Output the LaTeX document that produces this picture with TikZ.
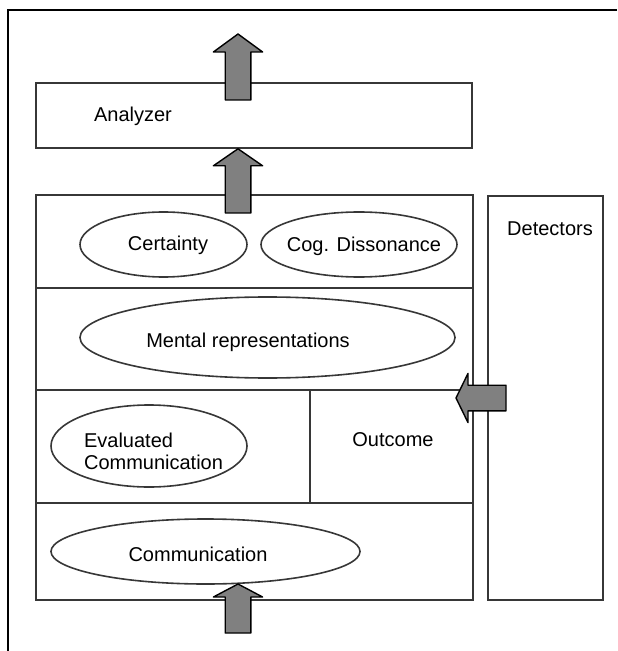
\documentclass[tikz,border=0pt]{standalone}
\usepackage{fontspec}
\setmainfont{Liberation Sans}
\usepackage{xcolor}
\definecolor{Black}{RGB}{0,0,0}
\definecolor{Line}{RGB}{55,55,55}
\definecolor{Grey}{RGB}{128,128,128}
\definecolor{White}{RGB}{255,255,255}
\usepackage{tikz}
\usetikzlibrary{calc,shapes.geometric}

% fat arrow: tail, tip, head length
\newcommand{\fatArrow}[3]{
	\coordinate (hb) at ($(#2)!#3!(#1)$);
	\draw[fill=Grey, draw=Black, line width=0.7pt, line join=round]
		($(#1)!6.4pt!90:(#2)$) -- ($(hb)!6.4pt!90:(#2)$) -- ($(hb)!12.3pt!90:(#2)$) -- (#2)
		-- ($(hb)!12.3pt!-90:(#2)$) -- ($(hb)!6.4pt!-90:(#2)$) -- ($(#1)!6.4pt!-90:(#2)$) -- cycle;
}

\begin{document}
\begin{tikzpicture}[x=0.5pt, y=-0.5pt,
		every node/.style={font=\fontsize{10}{11}\selectfont, color=Black},
		box/.style={draw=Line, line width=0.8pt, rectangle, inner sep=0pt},
		oval/.style={draw=Line, line width=0.8pt, ellipse, inner sep=0pt}]
		
		\useasboundingbox (0,0) rectangle (617,651);
		
		% Frame
		\draw[Black, line width=1.2pt] (617,10) -- (8,10) -- (8,651);
		
		% Rectangle
		\node[box, minimum width=218pt, minimum height=32.5pt] (analyzer) at (254,115.5) {};
		\node[box, minimum width=218.5pt, minimum height=202.5pt] (main) at (254.5,397.5) {};
		\node[box, minimum width=57.5pt, minimum height=202pt] (detectors) at (545.5,398) {};
		
		% Lines
		\draw[Line, line width=0.8pt] (main.west |- 0,288) -- (main.east |- 0,288);
		\draw[Line, line width=0.8pt] (main.west |- 0,390) -- (main.east |- 0,390);
		\draw[Line, line width=0.8pt] (main.west |- 0,503) -- (main.east |- 0,503);
		\draw[Line, line width=0.8pt] (310,390) -- (310,503);
		
		% Ellipses
		\node[oval, minimum width=83.5pt, minimum height=32.5pt] (certainty) at (163.5,244.5) {};
		\node[oval, minimum width=98pt, minimum height=32.5pt] (cogdis) at (359,244.5) {};
		\node[oval, minimum width=187.5pt, minimum height=40.5pt] (mental) at (267.5,337.5) {};
		\node[oval, minimum width=98pt, minimum height=41pt] (evalcomm) at (149,446) {};
		\node[oval, minimum width=154.5pt, minimum height=32.5pt] (comm) at (205.5,551.5) {};
		
		% Text
		\node[anchor=west] (analyzertext) at (87,116) {Analyzer};
		\node (detectorstext) at (550,229) {Detectors};
		\node (certaintytext) at (168,245) {Certainty};
		\node (cogdistext) at (364,246) {Cog. Dissonance};
		\node (mentaltext) at (248,342) {Mental representations};
		\node[anchor=west, align=left] (evalcommtext) at (77,451) {Evaluated\\Communication};
		\node (outcometext) at (393,440) {Outcome};
		\node (commtext) at (198,554) {Communication};
		
		% Arrows
		\coordinate (outTail) at (238,100);
		\coordinate (outTip) at (238,34);
		\coordinate (upTail) at (238,213);
		\coordinate (inTail) at (238,633);
		\coordinate (inTip) at (238,584);
		\coordinate (detTail) at (506,398);
		\coordinate (detTip) at (456,398);
		\fatArrow{outTail}{outTip}{9pt}
		\fatArrow{upTail}{analyzer.south -| outTip}{8.5pt}
		\fatArrow{inTail}{inTip}{6.5pt}
		\fatArrow{detTail}{detTip}{6pt}
		
	\end{tikzpicture}
\end{document}
